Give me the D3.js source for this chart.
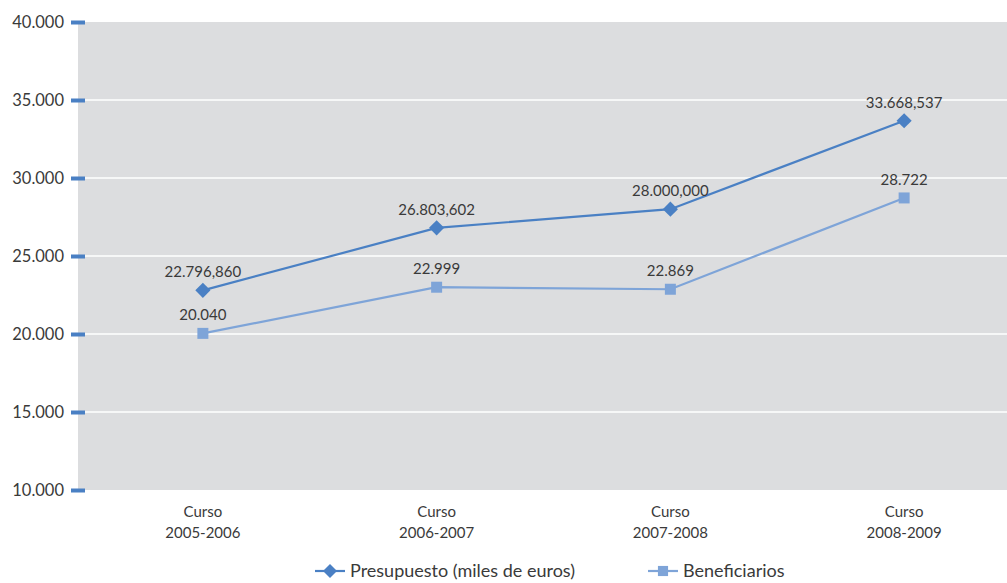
<!DOCTYPE html>
<html>
<head>
<meta charset="utf-8">
<script src="https://cdn.jsdelivr.net/npm/d3@7"></script>
<style>
  body { margin: 0; background: #fff; }
  text { font-family: Lato, "Open Sans", sans-serif; fill: #3a3a3a; }
</style>
</head>
<body>
<div id="chart-area"></div>
<script>
// DATA
const categories = ['Curso\n2005-2006', 'Curso\n2006-2007', 'Curso\n2007-2008', 'Curso\n2008-2009']
const presupuesto = [22796.86, 26803.602, 28000, 33668.537]
const presupuestoLabels = ['22.796,860', '26.803,602', '28.000,000', '33.668,537']
const beneficiarios = [20040, 22999, 22869, 28722]
const beneficiariosLabels = ['20.040', '22.999', '22.869', '28.722']
const yTicks = [10000, 15000, 20000, 25000, 30000, 35000, 40000]
const seriesNames = ['Presupuesto (miles de euros)', 'Beneficiarios']

const W = 1007, H = 583
const plot = { left: 78, right: 1007, top: 22, bottom: 490 }

const svg = d3.select('#chart-area')
              .append('svg')
              .attr('width', W)
              .attr('height', H)

// SCALES
const x = d3.scaleBand()
            .domain(categories)
            .range([86, 1021])
const y = d3.scaleLinear()
            .domain([10000, 40000])
            .range([plot.bottom, plot.top])

// PLOT BACKGROUND
svg.append('rect')
   .attr('x', plot.left)
   .attr('y', plot.top)
   .attr('width', plot.right - plot.left)
   .attr('height', plot.bottom - plot.top)
   .attr('fill', '#dcdddf')

// GRIDLINES
svg.selectAll('.grid')
   .data(yTicks.slice(1, -1))
   .enter()
   .append('line')
   .attr('x1', plot.left)
   .attr('x2', plot.right)
   .attr('y1', d => y(d))
   .attr('y2', d => y(d))
   .attr('stroke', '#fff')
   .attr('stroke-width', 1.5)

// Y AXIS
const yAxisCall = d3.axisLeft(y)
                    .tickValues(yTicks)
                    .tickSize(0)
                    .tickPadding(0)
                    .tickFormat(d => d3.format(',')(d).replace(',', '.'))
const yAxisGroup = svg.append('g')
                      .attr('transform', 'translate(64, 0)')
                      .call(yAxisCall)
yAxisGroup.select('.domain').remove()
yAxisGroup.selectAll('text')
          .attr('font-size', '16.5px')
          .attr('dy', '0.35em')
yAxisGroup.selectAll('.tick')
          .append('rect')
          .attr('x', 7)
          .attr('y', -2)
          .attr('width', 14)
          .attr('height', 4)
          .attr('fill', '#4a80c4')

// X AXIS LABELS
const xLabels = svg.selectAll('.x-label')
                   .data(categories)
                   .enter()
                   .append('text')
                   .attr('class', 'x-label')
                   .attr('text-anchor', 'middle')
                   .attr('font-size', '15px')
                   .attr('transform', d => 'translate(' + (x(d) + x.bandwidth() / 2) + ',0)')
xLabels.selectAll('tspan')
       .data(d => d.split('\n'))
       .enter()
       .append('tspan')
       .attr('x', 0)
       .attr('y', (d, i) => 517 + i * 21)
       .text(d => d)

const cx = d => x(d) + x.bandwidth() / 2

// LINES
const series = [
    { name: seriesNames[0], values: presupuesto, labels: presupuestoLabels, color: '#4a80c4', rotate: 45, size: 115 },
    { name: seriesNames[1], values: beneficiarios, labels: beneficiariosLabels, color: '#7ea4d8', rotate: 0, size: 121 }
]

const line = d3.line()
               .x(d => cx(d.cat))
               .y(d => y(d.v))

series.forEach(s => {
    const pts = categories.map((c, i) => ({ cat: c, v: s.values[i], label: s.labels[i] }))
    svg.append('path')
       .datum(pts)
       .attr('d', line)
       .attr('fill', 'none')
       .attr('stroke', s.color)
       .attr('stroke-width', 2.2)
    svg.selectAll(null)
       .data(pts)
       .enter()
       .append('path')
       .attr('d', d3.symbol().type(d3.symbolSquare).size(s.size))
       .attr('transform', d => 'translate(' + cx(d.cat) + ',' + y(d.v) + ') rotate(' + s.rotate + ')')
       .attr('fill', s.color)
    svg.selectAll(null)
       .data(pts)
       .enter()
       .append('text')
       .attr('x', d => cx(d.cat))
       .attr('y', d => y(d.v) - 13)
       .attr('text-anchor', 'middle')
       .attr('font-size', '15px')
       .text(d => d.label)
})

// LEGEND
const legendX = [315, 648]
series.forEach((s, i) => {
    const g = svg.append('g')
                 .attr('transform', 'translate(' + legendX[i] + ',571)')
    g.append('line')
     .attr('x1', 0).attr('x2', 30)
     .attr('stroke', s.color)
     .attr('stroke-width', 2.2)
    g.append('path')
     .attr('d', d3.symbol().type(d3.symbolSquare).size(s.size * 0.85))
     .attr('transform', 'translate(15,0) rotate(' + s.rotate + ')')
     .attr('fill', s.color)
    g.append('text')
     .attr('x', 35)
     .attr('dy', '0.35em')
     .attr('font-size', '18px')
     .text(s.name)
})
</script>
</body>
</html>
